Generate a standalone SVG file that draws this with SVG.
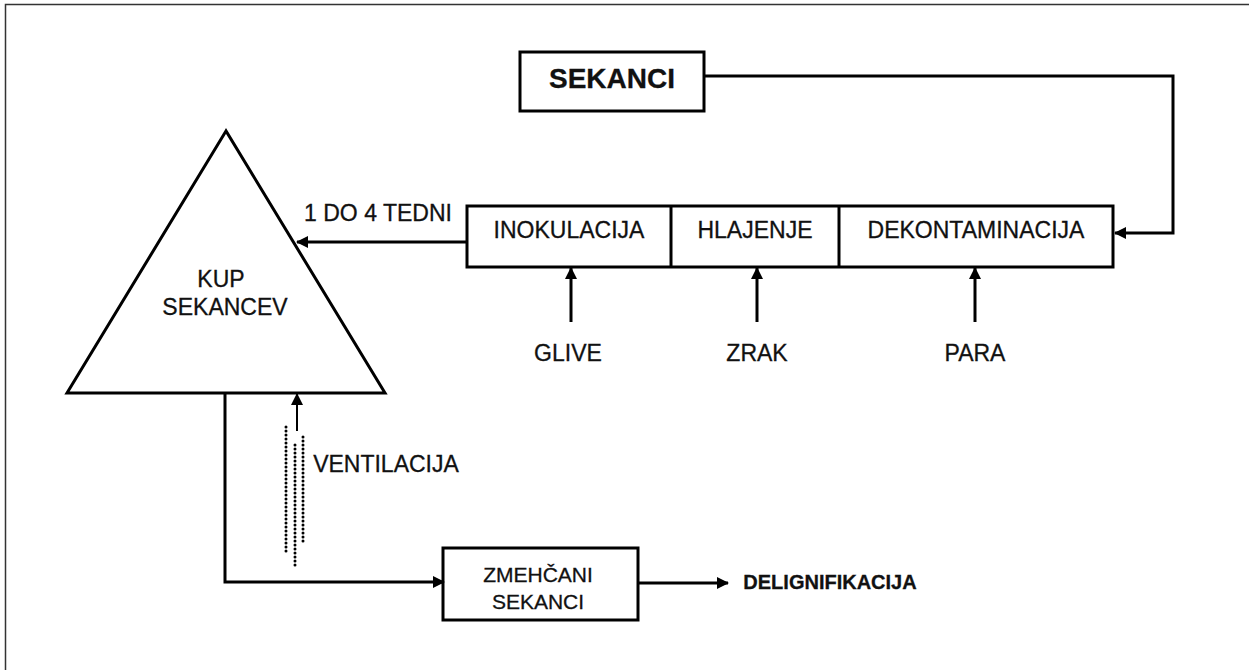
<svg xmlns="http://www.w3.org/2000/svg" width="1249" height="670" viewBox="0 0 1249 670">
<style>
.box{fill:#fff;stroke:#000;stroke-width:3}
.ln{fill:none;stroke:#000;stroke-width:3}
.t{font-family:"Liberation Sans",Arial,sans-serif;font-size:23px;fill:#111;text-anchor:middle;stroke:#111;stroke-width:0.3}
.b{font-weight:bold}
.dot{fill:none;stroke:#000;stroke-width:3;stroke-linecap:round;stroke-dasharray:0 4}
</style>
<defs>
<marker id="ah" viewBox="0 0 12 12" refX="11" refY="6" markerWidth="12" markerHeight="12" markerUnits="userSpaceOnUse" orient="auto">
<path d="M0,0 L12,6 L0,12 Z" fill="#000"/>
</marker>
</defs>
<rect width="1249" height="670" fill="#fff"/>
<path d="M5.5,670 V4.5 H1249" fill="none" stroke="#333" stroke-width="1.5"/>
<g id="sekanci">
<rect class="box" x="520" y="52" width="184" height="59"/>
<text class="t b" x="612" y="88" style="font-size:28px">SEKANCI</text>
</g>
<g id="process">
<rect class="box" x="467" y="206" width="646" height="61"/>
<line class="ln" x1="671" y1="206" x2="671" y2="267"/>
<line class="ln" x1="839" y1="206" x2="839" y2="267"/>
<text class="t" x="569" y="238">INOKULACIJA</text>
<text class="t" x="755" y="238">HLAJENJE</text>
<text class="t" x="976" y="238">DEKONTAMINACIJA</text>
</g>
<g id="kup">
<polygon class="box" points="226,131 67,393 385,393"/>
<text class="t" x="221" y="287">KUP</text>
<text class="t" x="225" y="315">SEKANCEV</text>
</g>
<g id="zmehcani">
<rect class="box" x="443" y="548" width="195" height="72"/>
<text class="t" x="538" y="582" style="font-size:21px">ZMEHČANI</text>
<text class="t" x="538" y="609" style="font-size:21px">SEKANCI</text>
</g>
<g id="labels">
<text class="t" x="378" y="221">1 DO 4 TEDNI</text>
<text class="t" x="568" y="361">GLIVE</text>
<text class="t" x="757" y="361">ZRAK</text>
<text class="t" x="975" y="361">PARA</text>
<text class="t" x="386" y="472">VENTILACIJA</text>
<text class="t b" x="830" y="589" style="font-size:20px">DELIGNIFIKACIJA</text>
</g>
<g id="connectors">
<path class="ln" d="M704,76 H1173 V233 H1115" marker-end="url(#ah)"/>
<path class="ln" d="M467,242 H297" marker-end="url(#ah)"/>
<path class="ln" d="M571,322 V268" marker-end="url(#ah)"/>
<path class="ln" d="M757,322 V268" marker-end="url(#ah)"/>
<path class="ln" d="M975,322 V268" marker-end="url(#ah)"/>
<path class="ln" d="M225,393 V582 H444" marker-end="url(#ah)"/>
<path class="ln" d="M638,583 H728" marker-end="url(#ah)"/>
<path d="M297,431 V394" fill="none" stroke="#000" stroke-width="2" marker-end="url(#ah)"/>
<line class="dot" x1="286" y1="427" x2="286" y2="555"/>
<line class="dot" x1="295" y1="445" x2="295" y2="566"/>
<line class="dot" x1="303" y1="437" x2="303" y2="545"/>
</g>
</svg>
